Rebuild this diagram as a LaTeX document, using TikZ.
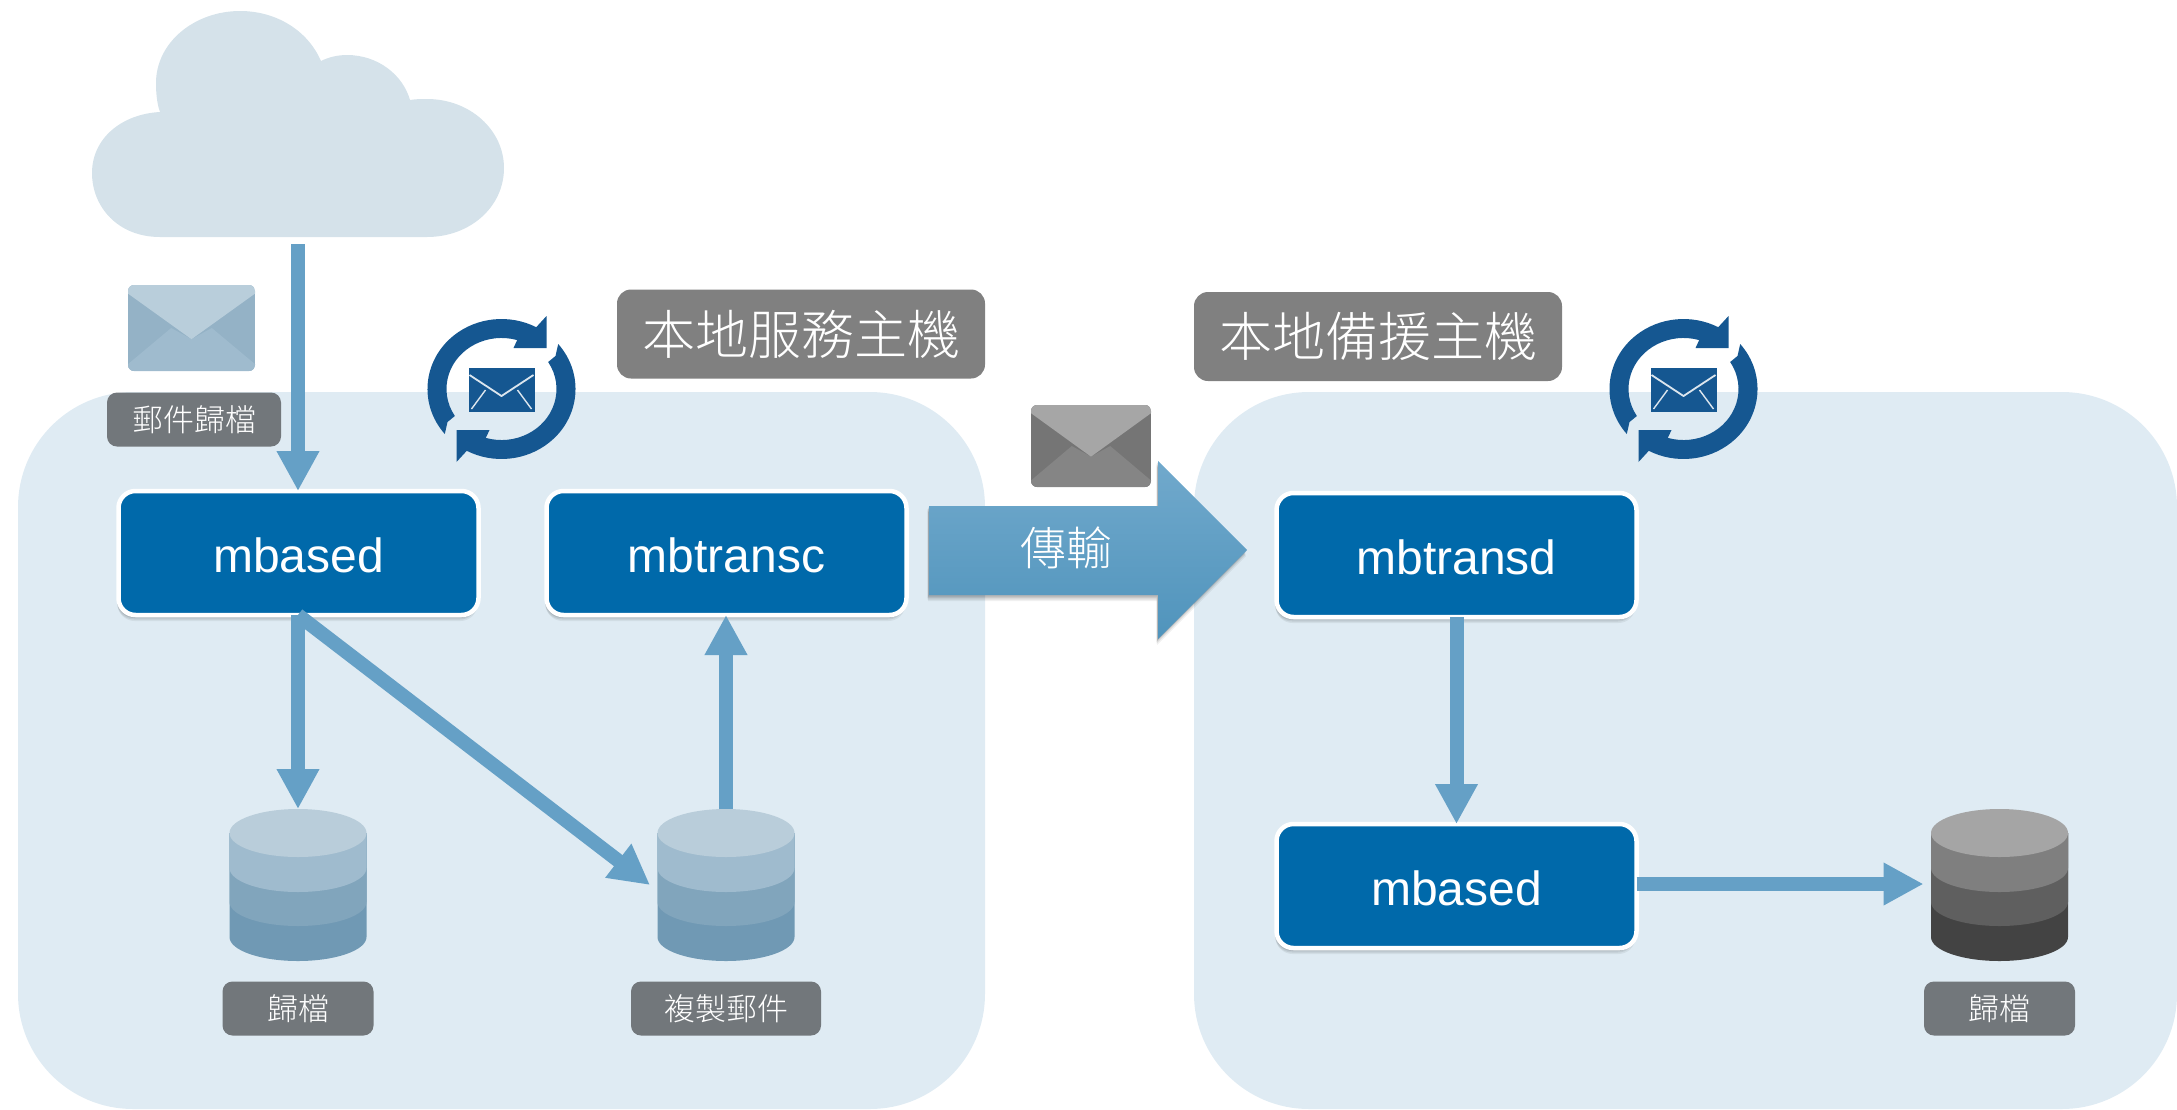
\documentclass[tikz,border=0pt]{standalone}
\usepackage{fontspec}
\setmainfont{Liberation Sans}
\newfontfamily\cjk{Noto Sans CJK TC Light}
\usetikzlibrary{arrows.meta,shadows,calc}
\definecolor{panel}{HTML}{DFEBF3}
\definecolor{cloudc}{HTML}{D5E2EA}
\definecolor{flow}{HTML}{65A0C6}
\definecolor{boxc}{HTML}{0069AA}
\definecolor{syncc}{HTML}{155791}
\definecolor{lblA}{HTML}{808080}
\definecolor{lblB}{HTML}{72777B}
\definecolor{mailAt}{HTML}{B9CEDB}
\definecolor{mailAs}{HTML}{94B2C6}
\definecolor{mailAb}{HTML}{9FBBCE}
\definecolor{mailBt}{HTML}{A6A6A6}
\definecolor{mailBs}{HTML}{757575}
\definecolor{mailBb}{HTML}{858585}
\definecolor{drumAa}{HTML}{B9CDDA}
\definecolor{drumAb}{HTML}{9FBBCE}
\definecolor{drumAc}{HTML}{81A5BC}
\definecolor{drumAd}{HTML}{7099B4}
\definecolor{drumBa}{HTML}{A5A5A5}
\definecolor{drumBb}{HTML}{7F7F7F}
\definecolor{drumBc}{HTML}{5F5F5F}
\definecolor{drumBd}{HTML}{434343}
\definecolor{bigT}{HTML}{71A9CC}
\definecolor{bigB}{HTML}{5094BC}
\tikzset{
  softshadow/.style={
    drop shadow={shadow xshift=-1pt,shadow yshift=-6pt,fill=black,opacity=.06},
    drop shadow={shadow xshift=-1.5pt,shadow yshift=-4.5pt,fill=black,opacity=.08},
    drop shadow={shadow xshift=-1.5pt,shadow yshift=-3pt,fill=black,opacity=.09},
    drop shadow={shadow xshift=-1pt,shadow yshift=-1.5pt,fill=black,opacity=.1}},
  panelbox/.style={fill=panel,rounded corners=115pt},
  procbox/.style={draw=white,line width=4.5pt,fill=boxc,rounded corners=17pt,minimum width=360pt,minimum height=124pt,inner sep=0pt,outer sep=0pt,text=white,font=\fontsize{48}{48}\selectfont,text height=38pt,text depth=0pt,softshadow},
  titlebox/.style={fill=lblA,rounded corners=14pt,minimum width=368pt,minimum height=89pt,inner sep=0pt,text=white,font=\cjk\fontsize{53}{53}\selectfont},
  smallbox/.style={fill=lblB,rounded corners=10pt,minimum height=54pt,inner sep=0pt,text=white,font=\cjk\fontsize{31}{31}\selectfont},
  flowarrow/.style={draw=flow,line width=14pt,-{Triangle[length=40pt,width=40pt]}},
  spot/.style={inner sep=0pt,outer sep=0pt,minimum width=138pt,minimum height=152pt}
}
\newcommand{\drum}[6]{% cx, top y, colours
  \begin{scope}[shift={(#1,#2)}]
    \fill[#6] (-68.5,24) -- (-68.5,128) arc[start angle=180,end angle=360,x radius=68.5pt,y radius=24pt] -- (68.5,24) -- cycle;
    \fill[#5] (-68.5,24) -- (-68.5,93) arc[start angle=180,end angle=360,x radius=68.5pt,y radius=24pt] -- (68.5,24) -- cycle;
    \fill[#4] (-68.5,24) -- (-68.5,59) arc[start angle=180,end angle=360,x radius=68.5pt,y radius=24pt] -- (68.5,24) -- cycle;
    \fill[#3] (0,24) ellipse[x radius=68.5pt,y radius=24pt];
  \end{scope}}
\newcommand{\mailicon}[7]{% x0,y0,w,h,top,side,bottom
  \begin{scope}[shift={(#1,#2)},xscale=#3,yscale=#4]
    \begin{scope}
      \clip[rounded corners=6pt] (0,0) rectangle (1,1);
      \fill[#6] (0,0) rectangle (1,1);
      \fill[#7] (0,.92) -- (.34,.5) -- (.5,.63) -- (.66,.5) -- (1,.92) -- (1,1) -- (0,1) -- cycle;
      \fill[#5] (0,0) -- (1,0) -- (1,.1) -- (.5,.63) -- (0,.1) -- cycle;
    \end{scope}
  \end{scope}}
\newcommand{\syncicon}[2]{%
  \begin{scope}[shift={(#1,#2)}]
    \foreach \r in {0,180}{
      \fill[syncc,rotate=\r] (-56.7pt,-45pt) arc[start angle=220,end angle=62,x radius=74pt,y radius=70pt]
        -- (45pt,73pt) -- (45pt,41pt) -- (12pt,41pt) -- (15.7pt,48.9pt)
        arc[start angle=73.4,end angle=212,x radius=55pt,y radius=51pt] -- (-54pt,-33pt) -- cycle;
    }
    \fill[syncc] (-33,-21) rectangle (33,23);
    \draw[white!85!syncc,line width=1.8pt,line join=round] (-32,-14) -- (0,7) -- (32,-14);
    \draw[white!85!syncc,line width=1.4pt] (-30,20) -- (-16,1) (30,20) -- (16,1);
  \end{scope}}
\begin{document}
\begin{tikzpicture}[x=1pt,y=-1pt]
\useasboundingbox (0,0) rectangle (2177,1109);
\fill[panelbox] (18,392) rectangle (985,1109);
\fill[panelbox] (1194,392) rectangle (2177,1109);
% cloud
\fill[cloudc] (160,237) .. controls (118,237) and (92,207) .. (92,173)
  .. controls (92,138) and (122,114) .. (160,112)
  .. controls (157,104) and (156,93) .. (156,83)
  .. controls (156,42) and (195,11) .. (240,11)
  .. controls (277,11) and (308,31) .. (321,61)
  .. controls (329,57) and (338,55) .. (347,55)
  .. controls (378,55) and (403,75) .. (410,100)
  .. controls (416,99) and (421,99) .. (427,99)
  .. controls (470,99) and (504,130) .. (504,168)
  .. controls (504,207) and (470,237) .. (427,237) -- cycle;
\coordinate (cloudout) at (298,244);
% envelopes
\mailicon{128}{285}{127}{86}{mailAt}{mailAs}{mailAb}
\mailicon{1031}{405}{120}{82}{mailBt}{mailBs}{mailBb}
% sync icons
\syncicon{501.5}{389}
\syncicon{1683.5}{389}
% titles
\node[titlebox] (hostA) at (801,334) {本地服務主機};
\node[titlebox] (hostB) at (1378,336.5) {本地備援主機};
% small labels
\node[smallbox,minimum width=174pt] (lblmail) at (194,419.5) {郵件歸檔};
\node[smallbox,minimum width=151pt] (lblarcA) at (298,1008.5) {歸檔};
\node[smallbox,minimum width=190pt] (lblcopy) at (726,1008.5) {複製郵件};
\node[smallbox,minimum width=151pt] (lblarcB) at (1999.5,1008.5) {歸檔};
% drums
\drum{298}{809}{drumAa}{drumAb}{drumAc}{drumAd}
\drum{726}{809}{drumAa}{drumAb}{drumAc}{drumAd}
\drum{1999.5}{809}{drumBa}{drumBb}{drumBc}{drumBd}
\node[spot] (drumA) at (298,885) {};
\node[spot] (drumB) at (726,885) {};
\node[spot] (drumC) at (1999.5,884) {};
% process boxes
\node[procbox] (mbasedA) at (298.5,553) {mbased};
\node[procbox] (mbtransc) at (726.5,553) {mbtransc};
\node[procbox] (mbtransd) at (1456.5,555) {mbtransd};
\node[procbox] (mbasedB) at (1456.5,886) {mbased};
% big arrow
\path[top color=bigT,bottom color=bigB,softshadow]
  (929,506) -- (1158,506) -- (1158,461) -- (1247,550) -- (1158,639) -- (1158,595) -- (929,595) -- cycle;
\node[text=white,font=\cjk\fontsize{46}{46}\selectfont,inner sep=0pt] (xfer) at (1066,548) {傳輸};
% connectors
\draw[flowarrow] (cloudout) -- (cloudout |- mbasedA.north);
\draw[flowarrow] (mbasedA.south -| drumA.north) -- (drumA.north);
\coordinate (drumBhit) at (650,885);
\draw[flowarrow] (mbasedA.south -| drumA.north) -- (drumBhit);
\draw[flowarrow] (drumB.north) -- (drumB.north |- mbtransc.south);
\draw[flowarrow] (mbtransd.south) -- (mbasedB.north);
\draw[flowarrow,shorten >=7pt] (mbasedB.east |- drumC.west) -- (drumC.west);
\end{tikzpicture}
\end{document}
